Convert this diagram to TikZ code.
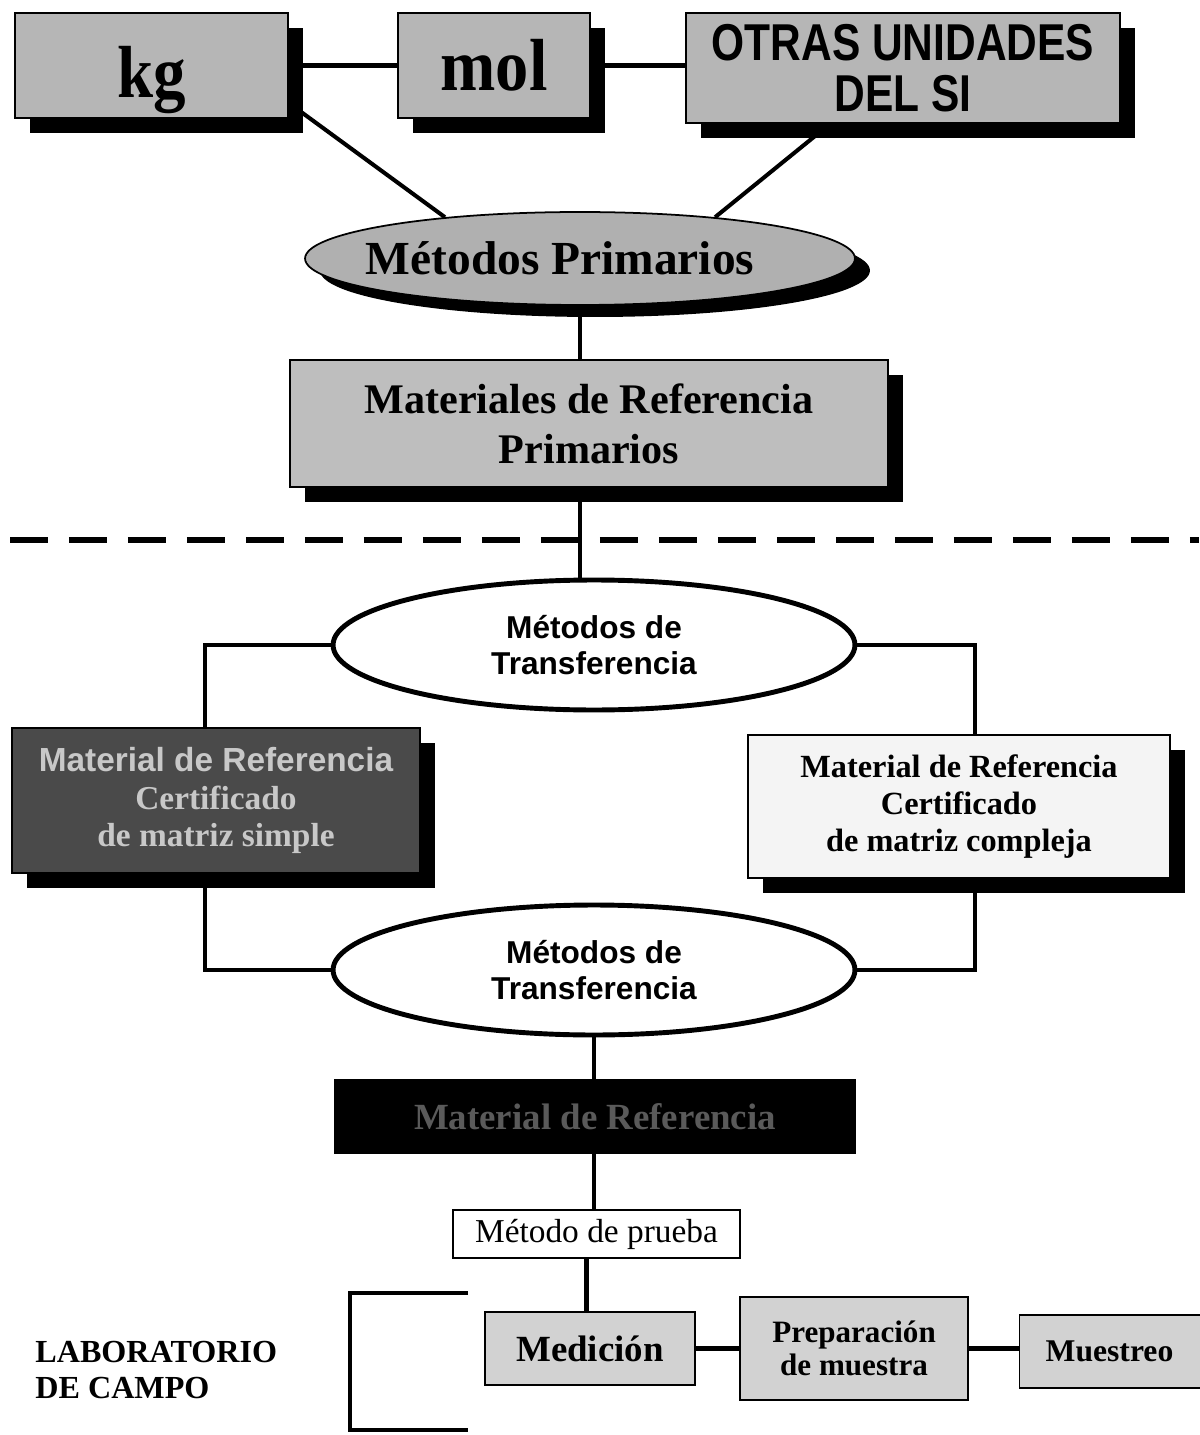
\documentclass[tikz,border=0pt]{standalone}
\usepackage{fontspec}
\setmainfont{Liberation Serif}
\newfontfamily\arialf{Liberation Sans}
\newfontfamily\arialnf[FakeStretch=0.82]{Liberation Sans}
\usetikzlibrary{shapes.geometric,shadows,calc,backgrounds}
\definecolor{gA}{HTML}{B6B6B6}
\definecolor{gEll}{HTML}{B0B0B0}
\definecolor{gMat}{HTML}{BEBEBE}
\definecolor{gDark}{HTML}{4A4A4A}
\definecolor{gDarkTxt}{HTML}{C8C8C8}
\definecolor{gLight}{HTML}{F4F4F4}
\definecolor{gLow}{HTML}{D2D2D2}
\definecolor{gBlackTxt}{HTML}{5A5A5A}
\begin{document}
\begin{tikzpicture}[x=0.02cm,y=-0.02cm,
  tbox/.style={rectangle,draw=black,line width=1pt,fill=gA,inner sep=0pt,align=center},
  shad/.style={general shadow={fill=black,shadow xshift=0.3cm,shadow yshift=-0.3cm}},
  tell/.style={ellipse,draw=black,line width=2.8pt,fill=white,inner sep=0pt,align=center,
    minimum width=10.44cm,minimum height=2.6cm,
    font=\arialf\bfseries\fontsize{18}{20.5}\selectfont},
  conn/.style={line width=2.3pt,draw=black}]
\useasboundingbox (0,0) rectangle (1199,1435);

% top units
\node[tbox,shad,minimum width=5.46cm,minimum height=2.1cm,text height=1.5cm,text depth=0.2cm,
  font=\bfseries\fontsize{42}{44}\selectfont] (kg) at (151.5,65.5) {\scalebox{0.88}[1]{kg}};
\node[tbox,shad,minimum width=3.84cm,minimum height=2.1cm,
  font=\bfseries\fontsize{42}{44}\selectfont] (mol) at (494,65.5) {\scalebox{0.9}[1]{mol}};
\node[tbox,shad,minimum width=8.68cm,minimum height=2.2cm,
  font=\arialnf\bfseries\fontsize{29.5}{29}\selectfont] (otras) at (903,68) {OTRAS UNIDADES\\DEL SI};

% primary methods
\node[ellipse,draw=black,line width=1pt,fill=gEll,inner sep=0pt,
  minimum width=11cm,minimum height=1.86cm,
  general shadow={fill=black,shadow xshift=0.3cm,shadow yshift=-0.24cm},
  font=\bfseries\fontsize{27}{29}\selectfont] (mp) at (580,258.5) {\hspace*{-0.8cm}Métodos Primarios};

\node[tbox,shad,fill=gMat,minimum width=11.96cm,minimum height=2.54cm,
  font=\bfseries\fontsize{24}{28.5}\selectfont] (mat) at (589,423.5)
  {Materiales de Referencia\\Primarios};

% transfer methods
\node[tell] (t1) at (594,645) {Métodos de\\Transferencia};

\node[tbox,shad,fill=gDark,minimum width=8.16cm,minimum height=2.9cm,
  text=gDarkTxt,font=\bfseries\fontsize{19}{21.5}\selectfont] (dark) at (216,800.5)
  {{\arialf Material de Referencia}\\Certificado\\de matriz simple};

\node[tbox,shad,fill=gLight,minimum width=8.44cm,minimum height=2.86cm,
  font=\bfseries\fontsize{18.4}{21.3}\selectfont] (cert) at (959,806.5)
  {Material de Referencia\\Certificado\\de matriz compleja};

\node[tell] (t2) at (594,970) {Métodos de\\Transferencia};

\node[tbox,fill=black,minimum width=10.4cm,minimum height=1.46cm,
  text=gBlackTxt,font=\bfseries\fontsize{21}{23}\selectfont] (blk) at (595,1116.5)
  {Material de Referencia};

\node[tbox,fill=white,line width=0.8pt,minimum width=5.74cm,minimum height=0.96cm,
  font=\fontsize{19}{21}\selectfont] (prueba) at (596.5,1234) {Método de prueba};

% field laboratory
\node[tbox,fill=gLow,minimum width=4.2cm,minimum height=1.46cm,
  font=\bfseries\fontsize{21}{23}\selectfont] (med) at (590,1348.5) {Medición};
\node[tbox,fill=gLow,minimum width=4.56cm,minimum height=2.06cm,
  font=\bfseries\fontsize{17.7}{19}\selectfont] (prep) at (854,1348.5) {Preparación\\de muestra};
\node[tbox,fill=gLow,minimum width=3.9cm,minimum height=1.46cm,
  font=\bfseries\fontsize{18}{20}\selectfont] (muest) at (1117,1351.5) {\hspace*{-0.3cm}Muestreo};

\node[anchor=west,align=left,inner sep=0pt,
  font=\bfseries\fontsize{18.3}{21}\selectfont] (lab) at (35,1370) {LABORATORIO\\DE CAMPO};

\draw[line width=2pt] (468,1293) -- (350,1293) -- (350,1430) -- (468,1430);

% dashed separator
\draw[line width=3.4pt,dash pattern=on 0.76cm off 0.42cm] (10,540) -- (1199,540);

% connectors
\begin{pgfonlayer}{background}
\draw[conn] (kg.east) -- (mol.west);
\draw[conn] (mol.east) -- (mol.east -| otras.west);
\draw[conn] ([yshift=-0.75cm]kg.east) -- (mp.163);
\draw[conn] ([xshift=-1.46cm]otras.south) -- (mp.17);
\draw[conn] (mp.south) -- (mp.south |- mat.north);
\draw[conn] (mp.south |- mat.south) -- (mp.south |- t1.north);
\draw[conn] (t1.west) -| ([xshift=-0.22cm]dark.north);
\draw[conn] (t1.east) -| ([xshift=0.32cm]cert.north);
\draw[conn] ([xshift=-0.22cm]dark.south) |- (t2.west);
\draw[conn] ([xshift=0.32cm]cert.south) |- (t2.east);
\draw[conn] (t2.south) -- (t2.south |- blk.north);
\draw[conn] (t2.south |- blk.south) -- (t2.south |- prueba.north);
\draw[conn] ([xshift=-0.2cm]prueba.south) -- ([xshift=-0.2cm]prueba.south |- med.north);
\draw[conn] (med.east) -- (prep.west);
\draw[conn] (prep.east) -- (prep.east -| muest.west);
\end{pgfonlayer}
\end{tikzpicture}
\end{document}
